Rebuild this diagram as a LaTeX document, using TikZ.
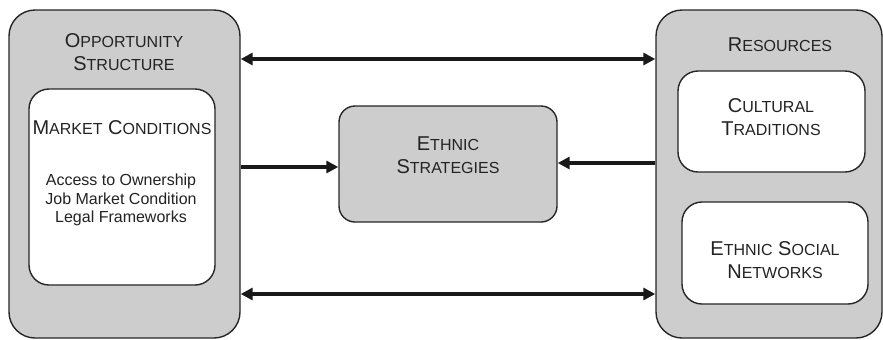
\documentclass[tikz,border=0pt]{standalone}
\usepackage{fontspec}
\setmainfont{Liberation Sans}
\usetikzlibrary{arrows.meta}
\definecolor{boxgray}{RGB}{205,205,205}
\definecolor{txtgray}{RGB}{35,35,35}
\newcommand{\smc}[1]{{\fontsize{8}{9}\selectfont #1}}

\begin{document}
\begin{tikzpicture}[x=0.5pt,y=-0.5pt,
  outerbox/.style={draw=black!85, line width=0.7pt, fill=boxgray, rounded corners=13pt, inner sep=0pt},
  innerbox/.style={draw=black!85, line width=0.7pt, fill=white, rounded corners=10pt, inner sep=0pt},
  boxtext/.style={text=txtgray, align=center, font=\fontsize{10}{11.5}\selectfont},
  itemtext/.style={text=txtgray, align=center, font=\fontsize{8}{9.25}\selectfont},
  link/.style={line width=2pt, draw=black!90}]
\useasboundingbox (0,0) rectangle (883,339);
% boxes
\node[outerbox, minimum width=115.5pt, minimum height=164pt] (opp) at (124.5,174) {};
\node[innerbox, minimum width=93pt, minimum height=98pt] (market) at (122,187) {};
\node[outerbox, rounded corners=8pt, minimum width=109pt, minimum height=58pt] (strat) at (448,164) {};
\node[outerbox, minimum width=113pt, minimum height=164pt] (res) at (769,174) {};
\node[innerbox, minimum width=93.5pt, minimum height=50.5pt] (cult) at (771.5,121.5) {};
\node[innerbox, minimum width=93pt, minimum height=51pt] (social) at (775,253) {};
% texts
\node[boxtext] (opptitle) at (124,52) {O\smc{PPORTUNITY}\\S\smc{TRUCTURE}};
\node[boxtext] (markettitle) at (122,128) {M\smc{ARKET} C\smc{ONDITIONS}};
\node[itemtext] (items) at (121,200) {Access to Ownership\\Job Market Condition\\Legal Frameworks};
\node[boxtext] (strattitle) at (448,155) {E\smc{THNIC}\\S\smc{TRATEGIES}};
\node[boxtext] (restitle) at (780,45) {R\smc{ESOURCES}};
\node[boxtext] (culttitle) at (771,117) {C\smc{ULTURAL}\\T\smc{RADITIONS}};
\node[boxtext] (socialtitle) at (775,260) {E\smc{THNIC} S\smc{OCIAL}\\N\smc{ETWORKS}};
% arrows
\draw[link, {Triangle[length=6pt,width=6pt]}-{Triangle[length=6pt,width=6pt]}] (opp.east |- 0,59) -- (res.west |- 0,59);
\draw[link, -{Triangle[length=6pt,width=6pt]}] (opp.east |- 0,167) -- (strat.west |- 0,167);
\draw[link, -{Triangle[length=6pt,width=6pt]}] (res.west |- 0,163) -- (strat.east |- 0,163);
\draw[link, {Triangle[length=6pt,width=6pt]}-{Triangle[length=6pt,width=6pt]}] (opp.east |- 0,294) -- (res.west |- 0,294);
\end{tikzpicture}
\end{document}
